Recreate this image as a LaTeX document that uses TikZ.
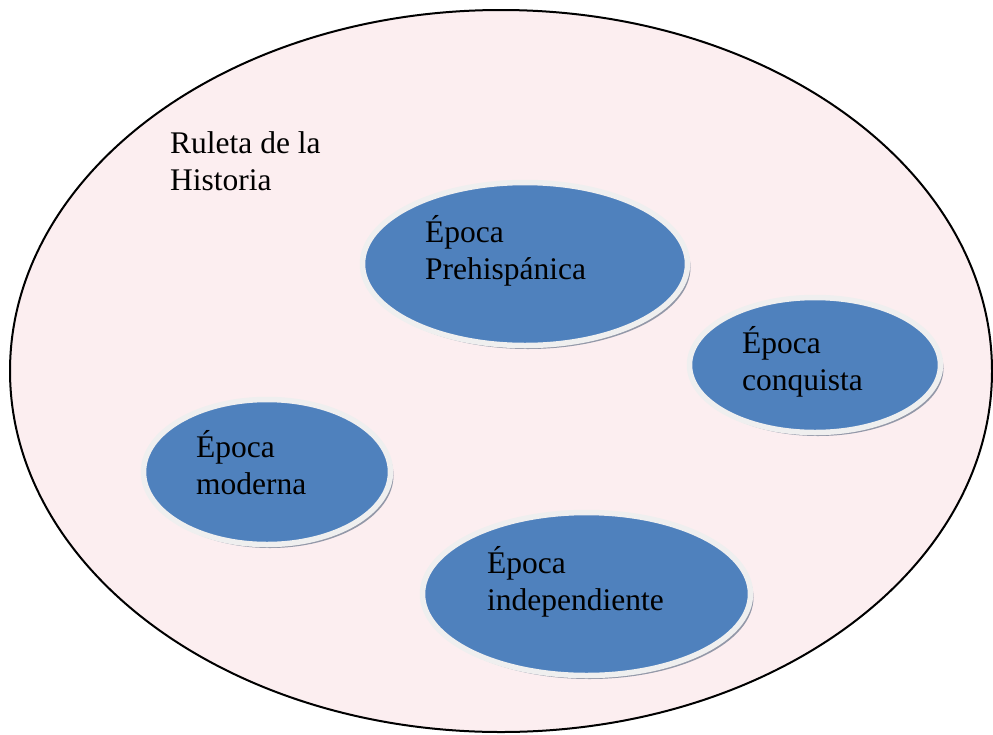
\documentclass[tikz,border=0pt]{standalone}
\usepackage{fontspec}
\setmainfont{Liberation Serif}
\usetikzlibrary{shapes.geometric,shadows}
\definecolor{blueF}{HTML}{4F81BD}
\definecolor{rimgray}{HTML}{EFEFEF}
\definecolor{shadowgray}{HTML}{9398A8}
\definecolor{pinkbg}{HTML}{FCEEF0}
\newcommand{\twolines}[2]{\vtop{\baselineskip=37pt\hbox{#1}\hbox{#2}}}
\tikzset{
  blob/.style={ellipse, inner sep=0pt, fill=blueF, draw=rimgray, line width=5.5pt,
    drop shadow={shadow xshift=3pt, shadow yshift=-3.5pt, fill=shadowgray, opacity=1}},
  lbl/.style={anchor=base west, inner sep=0pt, font=\fontsize{31.5}{37}\selectfont}
}
\begin{document}
\begin{tikzpicture}[x=1pt,y=-1pt]
\useasboundingbox (0,0) rectangle (993,734);
\node[ellipse, draw=black, line width=2pt, fill=pinkbg, minimum width=982pt, minimum height=722pt, inner sep=0pt] (rueda) at (501,371) {};
\node[lbl] (titulo) at (170,153) {\twolines{Ruleta de la}{Historia}};
\node[blob, minimum width=325pt, minimum height=163pt] (pre) at (525,264) {};
\node[blob, minimum width=251pt, minimum height=135pt] (con) at (815,365) {};
\node[blob, minimum width=247pt, minimum height=145pt] (mod) at (267,472) {};
\node[blob, minimum width=328pt, minimum height=163pt] (ind) at (586.5,594) {};
\node[lbl] (tpre) at (425,242) {\twolines{Época}{Prehispánica}};
\node[lbl] (tcon) at (742,353) {\twolines{Época}{conquista}};
\node[lbl] (tmod) at (196,457) {\twolines{Época}{moderna}};
\node[lbl] (tind) at (487,573) {\twolines{Época}{independiente}};
\end{tikzpicture}
\end{document}
